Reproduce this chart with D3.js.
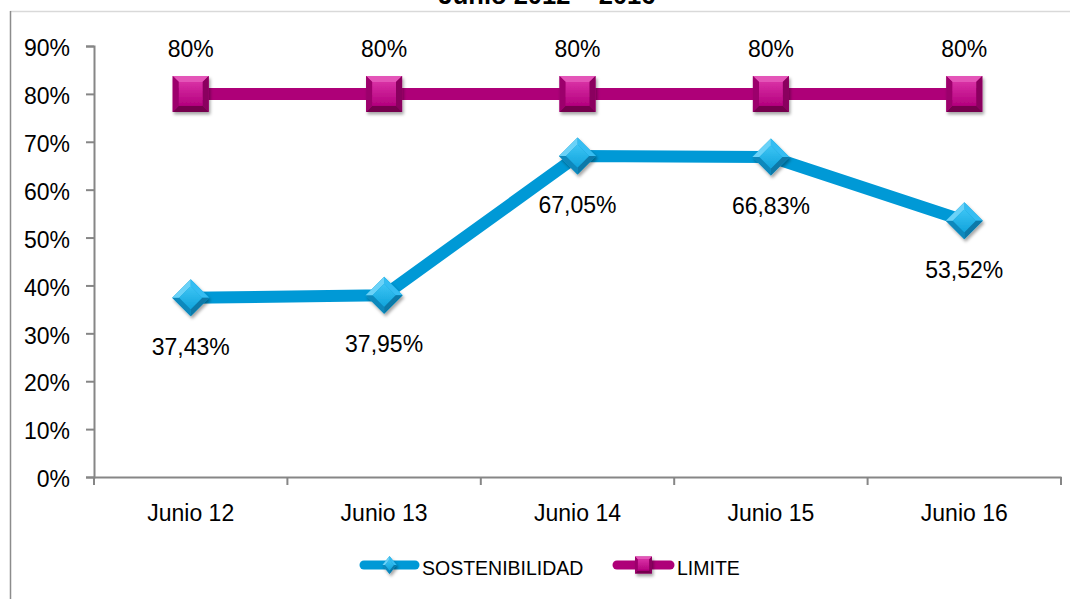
<!DOCTYPE html>
<html>
<head>
<meta charset="utf-8">
<script src="https://cdn.jsdelivr.net/npm/d3@7"></script>
<style>
  html, body { margin: 0; padding: 0; background: #fff; }
  svg { display: block; font-family: "Liberation Sans", Arial, sans-serif; }
</style>
</head>
<body>
<svg id="chart" width="1070" height="599"></svg>
<script>
// ---- data ----
const categories = ["Junio 12", "Junio 13", "Junio 14", "Junio 15", "Junio 16"];
const sostenibilidad = [37.43, 37.95, 67.05, 66.83, 53.52];
const limite = [80, 80, 80, 80, 80];
const yTicks = [0, 10, 20, 30, 40, 50, 60, 70, 80, 90];
const seriesNames = ["SOSTENIBILIDAD", "LIMITE"];
const titleText = "Junio 2012 \u2013 2016";

(function () {
const svg = d3.select("#chart");
const W = 1070, H = 599;
const pLeft = 94, pRight = 1061, pTop = 46, pBottom = 477;

const x = d3.scaleBand().domain(categories).range([pLeft, pRight]).paddingInner(0).paddingOuter(0);
const y = d3.scaleLinear().domain([0, 90]).range([pBottom, pTop]);
const cx = c => x(c) + x.bandwidth() / 2;
const fmt = v => v.toFixed(2).replace(".", ",") + "%";

const defs = svg.append("defs");
const f = defs.append("filter").attr("id", "shadow").attr("x", "-40%").attr("y", "-40%").attr("width", "180%").attr("height", "180%");
f.append("feDropShadow").attr("dx", 1.5).attr("dy", 2.5).attr("stdDeviation", 1.8).attr("flood-color", "#000").attr("flood-opacity", 0.35);

function grad(id, c1, c2) {
  const g = defs.append("linearGradient").attr("id", id).attr("x1", 0).attr("y1", 0).attr("x2", 0).attr("y2", 1);
  g.append("stop").attr("offset", "0%").attr("stop-color", c1);
  g.append("stop").attr("offset", "100%").attr("stop-color", c2);
}
grad("sqCenter", "#D830A4", "#B4007E");
grad("dmCenter", "#3CC4F4", "#12A4DC");

// frame
svg.append("line").attr("x1", 10).attr("x2", W).attr("y1", 11.5).attr("y2", 11.5).attr("stroke", "#D9D9D9").attr("stroke-width", 1.5);
svg.append("line").attr("x1", 10.5).attr("x2", 10.5).attr("y1", 11).attr("y2", H).attr("stroke", "#8C8C8C").attr("stroke-width", 1.5);

// title
svg.append("text").attr("x", 547).attr("y", 4).attr("text-anchor", "middle")
  .attr("font-weight", "bold").attr("font-size", 25.5).attr("fill", "#000").text(titleText);

// y axis
const yAxis = d3.axisLeft(y).tickValues(yTicks).tickSize(8).tickPadding(16).tickFormat(d => d + "%");
const gy = svg.append("g").attr("transform", `translate(${pLeft},0)`).call(yAxis);
gy.select(".domain").attr("stroke", "#868686").attr("stroke-width", 2);
gy.selectAll(".tick line").attr("stroke", "#868686").attr("stroke-width", 2);
gy.selectAll(".tick text").attr("font-size", 23).attr("fill", "#000").attr("font-family", "Liberation Sans, Arial, sans-serif").attr("dy", "0.42em");

// x axis
const xAxis = d3.axisBottom(x).tickSize(0).tickPadding(28);
const gx = svg.append("g").attr("transform", `translate(0,${pBottom})`).call(xAxis);
gx.select(".domain").attr("stroke", "#868686").attr("stroke-width", 2);
gx.selectAll(".tick text").attr("font-size", 23).attr("fill", "#000").attr("font-family", "Liberation Sans, Arial, sans-serif");
// boundary ticks
const bounds = categories.map(c => x(c)).concat([x(categories[categories.length - 1]) + x.bandwidth()]);
gx.selectAll(".btick").data(bounds).enter().append("line")
  .attr("x1", d => d).attr("x2", d => d).attr("y1", 0).attr("y2", 8)
  .attr("stroke", "#868686").attr("stroke-width", 2);

// lines
const line = d3.line().x(d => cx(d.c)).y(d => y(d.v));
const sData = categories.map((c, i) => ({ c, v: sostenibilidad[i] }));
const lData = categories.map((c, i) => ({ c, v: limite[i] }));

svg.append("path").datum(sData).attr("d", line).attr("fill", "none").attr("stroke", "#0099D6").attr("stroke-width", 12).attr("stroke-linejoin", "round");
svg.append("path").datum(lData).attr("d", line).attr("fill", "none").attr("stroke", "#AE0078").attr("stroke-width", 12).attr("stroke-linejoin", "round");

// markers
const P = pts => pts.map(p => p.join(",")).join(" ");
function square(g, px, py, s) {
  const h = s / 2, b = s * 0.17;
  const grp = g.append("g").attr("filter", "url(#shadow)");
  const o = [[px - h, py - h], [px + h, py - h], [px + h, py + h], [px - h, py + h]];
  const i = [[px - h + b, py - h + b], [px + h - b, py - h + b], [px + h - b, py + h - b], [px - h + b, py + h - b]];
  grp.append("polygon").attr("points", P(o)).attr("fill", "#B0007C");
  grp.append("polygon").attr("points", P([o[0], o[1], i[1], i[0]])).attr("fill", "#E454B8");
  grp.append("polygon").attr("points", P([o[1], o[2], i[2], i[1]])).attr("fill", "#8A005E");
  grp.append("polygon").attr("points", P([o[2], o[3], i[3], i[2]])).attr("fill", "#74004E");
  grp.append("polygon").attr("points", P([o[3], o[0], i[0], i[3]])).attr("fill", "#9C006C");
  grp.append("polygon").attr("points", P(i)).attr("fill", "url(#sqCenter)");
}
function diamond(g, px, py, rx, ry) {
  const k = 0.62;
  const grp = g.append("g").attr("filter", "url(#shadow)");
  const o = [[px, py - ry], [px + rx, py], [px, py + ry], [px - rx, py]];
  const i = [[px, py - ry * k], [px + rx * k, py], [px, py + ry * k], [px - rx * k, py]];
  grp.append("polygon").attr("points", P(o)).attr("fill", "#0E9BD2");
  grp.append("polygon").attr("points", P([o[0], o[1], i[1], i[0]])).attr("fill", "#34BDF2");
  grp.append("polygon").attr("points", P([o[1], o[2], i[2], i[1]])).attr("fill", "#0779A8");
  grp.append("polygon").attr("points", P([o[2], o[3], i[3], i[2]])).attr("fill", "#0A88BC");
  grp.append("polygon").attr("points", P([o[3], o[0], i[0], i[3]])).attr("fill", "#6AD2F8");
  grp.append("polygon").attr("points", P(i)).attr("fill", "url(#dmCenter)");
}

const mk = svg.append("g");
sData.forEach(d => diamond(mk, cx(d.c), y(d.v), 18.5, 18.5));
lData.forEach(d => square(mk, cx(d.c), y(d.v), 36));

// data labels
svg.append("g").selectAll("text").data(lData).enter().append("text")
  .attr("x", d => cx(d.c)).attr("y", d => y(d.v) - 37).attr("text-anchor", "middle")
  .attr("font-size", 23).attr("fill", "#000").text(d => d.v + "%");
svg.append("g").selectAll("text").data(sData).enter().append("text")
  .attr("x", d => cx(d.c)).attr("y", d => y(d.v) + 57).attr("text-anchor", "middle")
  .attr("font-size", 23).attr("fill", "#000").text(d => fmt(d.v));

// legend
const lg = svg.append("g");
const legendItems = [
  { name: seriesNames[0], x0: 364, x1: 415, tx: 422, color: "#0099D6", type: "d" },
  { name: seriesNames[1], x0: 617, x1: 670, tx: 677, color: "#AE0078", type: "s" }
];
legendItems.forEach(it => {
  lg.append("line").attr("x1", it.x0).attr("x2", it.x1).attr("y1", 565).attr("y2", 565)
    .attr("stroke", it.color).attr("stroke-width", 9).attr("stroke-linecap", "round");
  const mx = (it.x0 + it.x1) / 2;
  if (it.type === "d") diamond(lg, mx, 565, 7, 9); else square(lg, mx, 565, 17);
  lg.append("text").attr("x", it.tx).attr("y", 575).attr("font-size", 19.5).attr("fill", "#000").text(it.name);
});
})();
</script>
</body>
</html>
